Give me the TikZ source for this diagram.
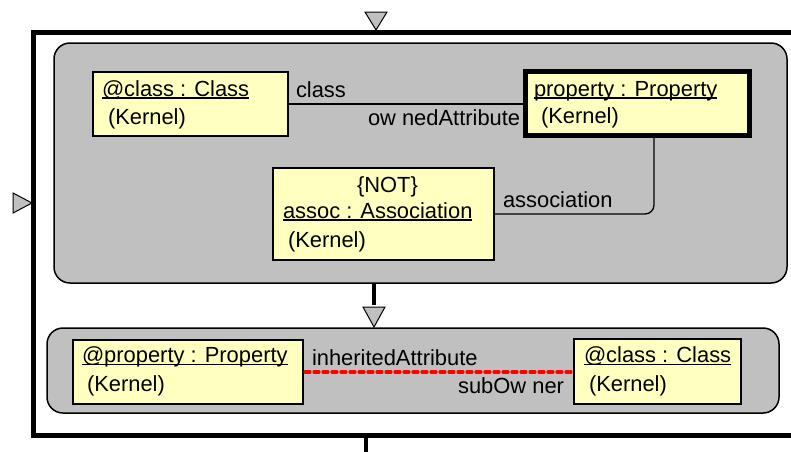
\documentclass[tikz,border=0pt]{standalone}
\usepackage{fontspec}
\setmainfont{Liberation Sans}
\begin{document}
\begin{tikzpicture}[x=1pt,y=-1pt,
  group/.style={draw=black,line width=1.5pt,fill=grp,rounded corners=16pt,inner sep=0pt,outer sep=0pt},
  objbox/.style={draw=black,line width=1.3pt,fill=obj,inner sep=0pt,outer sep=0pt},
  focus/.style={objbox,line width=5pt},
  txt/.style={anchor=base west,inner sep=0pt,outer sep=0pt,font=\fontsize{21.9}{24}\selectfont},
  ul/.style={line width=1.3pt},
  link/.style={draw=black,line width=1.3pt},
  neg/.style={draw=red,line width=3.3pt,dash pattern=on 5pt off 4pt,line cap=round},
  tri/.style={draw=black,line width=1pt,fill=grp,line join=miter},
  frame/.style={line width=5pt}]
\definecolor{grp}{HTML}{C0C0C0}
\definecolor{obj}{HTML}{FFFFC0}
\useasboundingbox (0,0) rectangle (791,451);

% outer rule frame, open on the right
\draw[frame] (796,32) -- (33,32) -- (33,435) -- (796,435);
\coordinate (outtick) at (366,437);
\draw[line width=4pt] (outtick) -- (366,455);
\draw[tri] (365,12) -- (387,12) -- (376,30) -- cycle;
\draw[tri] (13,193) -- (13,213) -- (32,203) -- cycle;

% left-hand side and right-hand side groups
\node[group,minimum width=733pt,minimum height=240pt] (lhs) at (420.5,163) {};
\node[group,minimum width=732pt,minimum height=85pt] (rhs) at (413,370.5) {};

% arrow from lhs to rhs
\coordinate (arrtop) at (374,283);
\coordinate (arrmid) at (374,305);
\draw[line width=4pt] (arrtop) -- (arrmid);
\draw[tri] (363,307) -- (385,307) -- (374,327) -- cycle;

% objects of the lhs
\node[objbox,minimum width=195pt,minimum height=64pt] (cls) at (190.5,104) {};
\node[focus,minimum width=224pt,minimum height=64pt] (prop) at (637.5,103.5) {};
\node[objbox,minimum width=221pt,minimum height=92pt] (assoc) at (383.5,214) {};

% objects of the rhs
\node[objbox,minimum width=230pt,minimum height=64pt] (iprop) at (188,372) {};
\node[objbox,minimum width=167pt,minimum height=65pt] (icls) at (657.5,371.5) {};

% links
\draw[link] (cls.east) -- (cls.east -| prop.west);
\draw[link,rounded corners=9pt] ([xshift=16.5pt]prop.south) |- (assoc.east);
\draw[neg] ([xshift=2pt]iprop.east) -- ([xshift=-2pt]iprop.east -| icls.west);

% object texts
\node[txt] (t1) at (102,96) {@class : Class};
\draw[ul] ([yshift=-2pt]t1.base west) -- ([yshift=-2pt]t1.base east);
\node[txt] (t1k) at (108,124.5) {(Kernel)};

\node[txt] (t2) at (534,96) {property : Property};
\draw[ul] ([yshift=-2pt]t2.base west) -- ([yshift=-2pt]t2.base east);
\node[txt] (t2k) at (541,123.5) {(Kernel)};

\node[txt] (t3n) at (357,192.5) {\{NOT\}};
\node[txt] (t3) at (283,218) {assoc : Association};
\draw[ul] ([yshift=-2pt]t3.base west) -- ([yshift=-2pt]t3.base east);
\node[txt] (t3k) at (288,247) {(Kernel)};

\node[txt] (t4) at (82,362) {@property : Property};
\draw[ul] ([yshift=-2.5pt]t4.base west) -- ([yshift=-2.5pt]t4.base east);
\node[txt] (t4k) at (87,391.5) {(Kernel)};

\node[txt] (t5) at (584,362) {@class : Class};
\draw[ul] ([yshift=-2.5pt]t5.base west) -- ([yshift=-2.5pt]t5.base east);
\node[txt] (t5k) at (589,391.5) {(Kernel)};

% role labels
\node[txt] (r1) at (296,97) {class};
\node[txt] (r2) at (368,125) {ow nedAttribute};
\node[txt] (r3) at (503,207) {association};
\node[txt] (r4) at (312,365) {inheritedAttribute};
\node[txt,anchor=base east] (r5) at (564,393) {subOw ner};
\end{tikzpicture}
\end{document}
